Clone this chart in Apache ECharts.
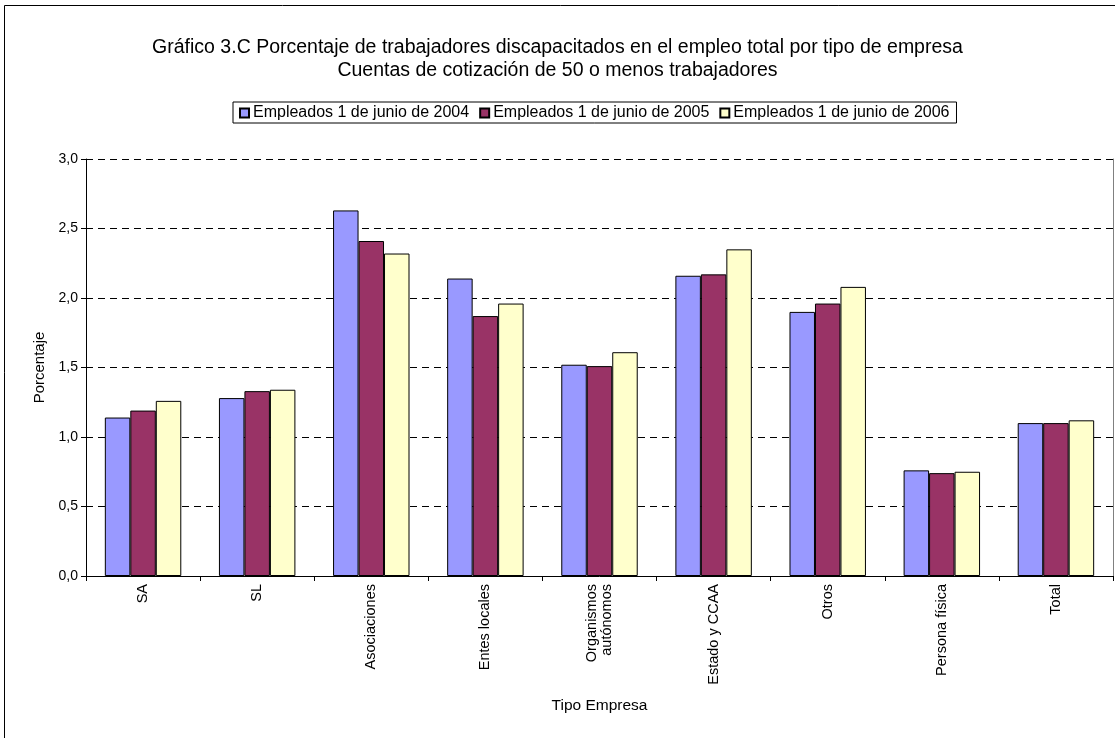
<!DOCTYPE html>
<html>
<head>
<meta charset="utf-8">
<script src="https://cdn.jsdelivr.net/npm/echarts@6/dist/echarts.min.js"></script>
<style>
  html, body { margin: 0; padding: 0; background: #fff; }
  #chart { width: 1115px; height: 738px; }
</style>
</head>
<body>
<div id="chart"></div>
<script>
// Tipos de empresa (eje de categorías)
const categories = ['SA', 'SL', 'Asociaciones', 'Entes locales', 'Organismos\nautónomos',
  'Estado y CCAA', 'Otros', 'Persona física', 'Total'];

// Porcentaje de trabajadores discapacitados por año
const empleados2004 = [1.14, 1.28, 2.63, 2.14, 1.52, 2.16, 1.90, 0.76, 1.10];
const empleados2005 = [1.19, 1.33, 2.41, 1.87, 1.51, 2.17, 1.96, 0.74, 1.10];
const empleados2006 = [1.26, 1.34, 2.32, 1.96, 1.61, 2.35, 2.08, 0.75, 1.12];

const seriesNames = ['Empleados 1 de junio de 2004', 'Empleados 1 de junio de 2005', 'Empleados 1 de junio de 2006'];
const yTicks = [0, 0.5, 1, 1.5, 2, 2.5, 3];

const FONT = 'Liberation Sans, Arial, sans-serif';
const colors = ['#9999FF', '#993366', '#FFFFCC'];
const values = [empleados2004, empleados2005, empleados2006];

const chart = echarts.init(document.getElementById('chart'));
chart.setOption({
  animation: false,
  backgroundColor: '#fff',
  textStyle: { fontFamily: FONT, color: '#000' },
  graphic: [{
    type: 'rect',
    shape: { x: 4.5, y: 5.5, width: 1200, height: 800 },
    style: { fill: 'none', stroke: '#000', lineWidth: 1 },
    silent: true
  }],
  title: {
    text: 'Gráfico 3.C Porcentaje de trabajadores discapacitados en el empleo total por tipo de empresa\nCuentas de cotización de 50 o menos trabajadores',
    left: 'center',
    top: 31,
    textStyle: { fontFamily: FONT, fontSize: 19.5, fontWeight: 'normal', color: '#000', lineHeight: 23 }
  },
  legend: {
    data: seriesNames,
    top: 102,
    left: 233,
    itemWidth: 9,
    itemHeight: 9,
    itemGap: 10,
    padding: [3, 7, 2, 6],
    borderColor: '#000',
    borderWidth: 1,
    icon: 'rect',
    textStyle: { fontFamily: FONT, fontSize: 16, color: '#000', padding: [0, 0, 0, -1] }
  },
  grid: { left: 86, right: 2, top: 159, bottom: 162, containLabel: false },
  xAxis: {
    type: 'category',
    data: categories,
    name: 'Tipo Empresa',
    nameLocation: 'middle',
    nameGap: 122,
    nameTextStyle: { fontFamily: FONT, fontSize: 15.5, color: '#000' },
    axisLine: { lineStyle: { color: '#000', width: 1 } },
    axisTick: { show: true, inside: false, length: 5, lineStyle: { color: '#000' } },
    axisLabel: {
      rotate: 90,
      interval: 0,
      margin: 8,
      fontFamily: FONT,
      fontSize: 14.5,
      color: '#000',
      lineHeight: 15
    }
  },
  yAxis: [{
    type: 'value',
    min: 0,
    max: 3,
    interval: 0.5,
    name: 'Porcentaje',
    nameLocation: 'middle',
    nameGap: 38,
    nameRotate: 90,
    nameTextStyle: { fontFamily: FONT, fontSize: 15, color: '#000' },
    axisLine: { show: true, lineStyle: { color: '#000', width: 1 } },
    axisTick: { show: true, length: 5, lineStyle: { color: '#000' } },
    axisLabel: {
      fontFamily: FONT, fontSize: 14, color: '#000', margin: 8,
      formatter: v => yTicks.includes(v) ? v.toFixed(1).replace('.', ',') : ''
    },
    splitLine: { show: true, lineStyle: { color: '#000', type: [7, 5], width: 1 } }
  }, {
    type: 'value',
    min: 0,
    max: 3,
    position: 'right',
    axisLine: { show: true, lineStyle: { color: '#808080', width: 1 } },
    axisTick: { show: false },
    axisLabel: { show: false },
    splitLine: { show: false }
  }],
  series: seriesNames.map((name, i) => ({
    name: name,
    type: 'bar',
    data: values[i],
    barGap: '0%',
    barCategoryGap: '33%',
    itemStyle: { color: colors[i], borderColor: '#000', borderWidth: 1 },
    emphasis: { disabled: true }
  }))
});
</script>
</body>
</html>
